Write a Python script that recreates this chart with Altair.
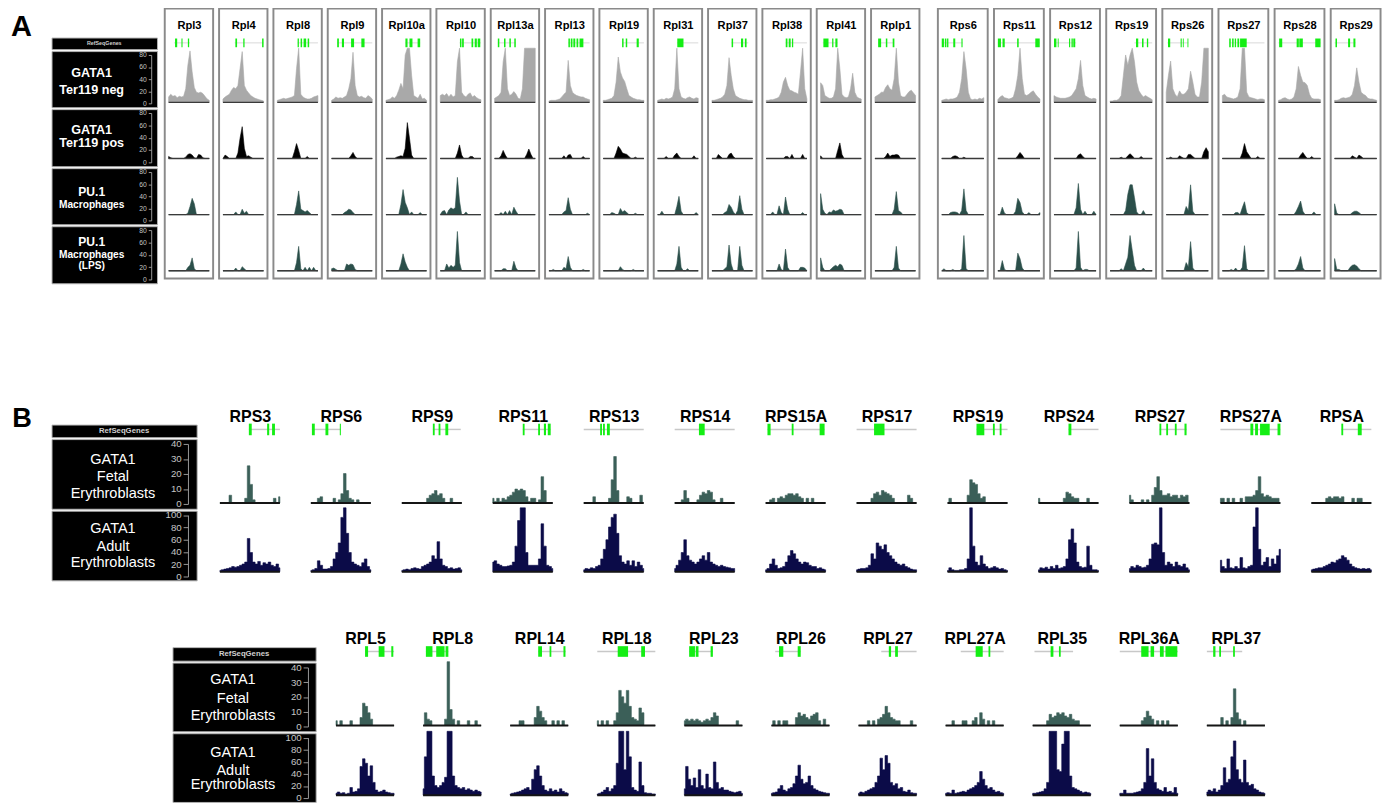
import altair as alt
import pandas as pd

FONT = "Liberation Sans"

# ---------------- Panel A data ----------------
A_RPL_GENES = ["Rpl3", "Rpl4", "Rpl8", "Rpl9", "Rpl10a", "Rpl10", "Rpl13a",
               "Rpl13", "Rpl19", "Rpl31", "Rpl37", "Rpl38", "Rpl41", "Rplp1"]
A_RPS_GENES = ["Rps6", "Rps11", "Rps12", "Rps19", "Rps26", "Rps27", "Rps28", "Rps29"]
A_ROW_LABELS = [["GATA1", "Ter119 neg"], ["GATA1", "Ter119 pos"],
                ["PU.1", "Macrophages"], ["PU.1", "Macrophages", "(LPS)"]]
A_AXIS_TICKS = [0, 20, 40, 60, 80]

# GATA1 Ter119 neg (grey)
A_NEG = {
    "Rpl3": [8, 12, 9, 10, 7, 9, 8, 9, 20, 55, 76, 45, 22, 15, 14, 15, 13, 9, 5, 3],
    "Rpl4": [5, 8, 10, 12, 18, 22, 20, 25, 50, 75, 25, 18, 14, 10, 8, 6, 5, 4, 3, 2],
    "Rpl8": [3, 4, 5, 6, 5, 6, 7, 8, 10, 50, 80, 12, 8, 6, 5, 5, 6, 8, 9, 10],
    "Rpl9": [3, 5, 8, 6, 7, 6, 8, 10, 20, 35, 74, 25, 10, 8, 9, 7, 6, 10, 8, 5],
    "Rpl10a": [3, 4, 5, 8, 6, 10, 18, 28, 20, 70, 80, 80, 40, 10, 8, 6, 12, 5, 6, 3],
    "Rpl10": [10, 12, 10, 13, 8, 12, 8, 10, 60, 80, 15, 10, 8, 12, 14, 8, 10, 7, 5, 4],
    "Rpl13a": [6, 8, 10, 15, 60, 80, 20, 10, 12, 16, 12, 6, 5, 20, 80, 80, 80, 80, 80, 80],
    "Rpl13": [2, 3, 3, 3, 4, 5, 8, 12, 15, 62, 25, 15, 12, 10, 9, 8, 8, 6, 5, 4],
    "Rpl19": [3, 3, 4, 5, 6, 10, 30, 67, 45, 36, 31, 20, 10, 8, 6, 5, 4, 4, 3, 3],
    "Rpl31": [3, 4, 5, 4, 6, 5, 6, 8, 20, 80, 20, 8, 6, 5, 7, 8, 6, 5, 7, 6],
    "Rpl37": [3, 3, 4, 5, 6, 8, 12, 25, 66, 40, 20, 10, 8, 6, 5, 4, 4, 3, 3, 3],
    "Rpl38": [3, 3, 4, 4, 5, 6, 8, 15, 30, 37, 25, 18, 17, 15, 14, 12, 45, 80, 20, 5],
    "Rpl41": [29, 25, 10, 8, 6, 6, 8, 20, 80, 50, 12, 8, 7, 8, 20, 43, 15, 8, 6, 5],
    "Rplp1": [8, 10, 12, 15, 15, 22, 26, 20, 18, 35, 80, 30, 10, 8, 8, 12, 16, 18, 14, 10],
    "Rps6": [3, 4, 5, 4, 5, 5, 6, 8, 15, 35, 75, 50, 15, 5, 4, 5, 4, 6, 5, 7],
    "Rps11": [4, 8, 10, 7, 6, 5, 6, 8, 20, 40, 80, 35, 12, 10, 12, 15, 17, 12, 8, 5],
    "Rps12": [10, 8, 7, 6, 6, 6, 7, 8, 10, 15, 20, 35, 62, 25, 10, 8, 6, 5, 6, 5],
    "Rps19": [2, 2, 3, 3, 5, 10, 40, 70, 55, 70, 80, 60, 30, 17, 12, 8, 10, 8, 6, 4],
    "Rps26": [15, 40, 61, 20, 12, 8, 17, 12, 12, 15, 20, 46, 30, 12, 8, 8, 30, 80, 80, 80],
    "Rps27": [10, 12, 8, 7, 6, 5, 6, 8, 20, 80, 80, 15, 8, 7, 6, 5, 4, 5, 5, 4],
    "Rps28": [3, 4, 6, 7, 5, 4, 5, 8, 20, 53, 40, 30, 29, 25, 12, 6, 5, 5, 5, 4],
    "Rps29": [3, 3, 4, 6, 7, 6, 7, 8, 12, 25, 51, 30, 15, 12, 10, 6, 5, 5, 4, 3],
}
# GATA1 Ter119 pos (black)
A_POS = {
    "Rpl3": [3, 1, 0, 0, 0, 0, 0, 0, 2, 6, 7, 5, 1, 0, 6, 5, 1, 0, 0, 0],
    "Rpl4": [0, 5, 3, 0, 0, 0, 0, 8, 30, 47, 15, 3, 4, 2, 0, 0, 0, 0, 0, 0],
    "Rpl8": [0, 0, 0, 0, 0, 0, 0, 0, 10, 22, 12, 0, 0, 0, 3, 0, 0, 0, 0, 0],
    "Rpl9": [0, 0, 0, 0, 0, 0, 0, 0, 0, 4, 9, 3, 0, 0, 0, 0, 0, 0, 0, 0],
    "Rpl10a": [0, 0, 0, 0, 0, 2, 3, 4, 3, 15, 53, 30, 5, 0, 0, 0, 0, 0, 0, 0],
    "Rpl10": [0, 0, 0, 0, 0, 0, 0, 0, 8, 20, 5, 0, 0, 0, 3, 3, 0, 0, 0, 0],
    "Rpl13a": [0, 0, 0, 4, 12, 5, 0, 0, 0, 0, 0, 0, 0, 0, 0, 6, 14, 6, 0, 0],
    "Rpl13": [0, 0, 0, 0, 0, 0, 0, 4, 0, 5, 6, 0, 0, 0, 0, 0, 3, 0, 0, 0],
    "Rpl19": [0, 0, 0, 0, 0, 0, 8, 18, 14, 8, 7, 6, 3, 0, 0, 2, 0, 0, 0, 0],
    "Rpl31": [0, 0, 0, 0, 3, 0, 0, 0, 5, 8, 3, 0, 0, 0, 0, 0, 0, 4, 0, 0],
    "Rpl37": [0, 0, 0, 6, 3, 0, 0, 0, 6, 8, 3, 0, 0, 0, 0, 0, 0, 0, 0, 0],
    "Rpl38": [0, 0, 0, 0, 0, 0, 0, 0, 0, 3, 3, 0, 6, 0, 0, 0, 0, 6, 0, 0],
    "Rpl41": [4, 0, 0, 0, 0, 0, 0, 0, 12, 23, 6, 0, 0, 0, 0, 0, 0, 0, 0, 0],
    "Rplp1": [0, 0, 0, 0, 0, 3, 8, 3, 5, 5, 6, 5, 0, 0, 0, 0, 0, 0, 0, 0],
    "Rps6": [0, 0, 0, 0, 0, 3, 4, 3, 0, 0, 2, 0, 0, 0, 0, 0, 0, 0, 0, 0],
    "Rps11": [0, 0, 0, 0, 0, 0, 0, 0, 0, 4, 9, 5, 0, 0, 0, 0, 0, 0, 0, 0],
    "Rps12": [0, 0, 0, 0, 0, 0, 0, 0, 0, 0, 0, 5, 7, 3, 0, 0, 0, 0, 0, 0],
    "Rps19": [0, 0, 0, 0, 0, 2, 0, 0, 4, 7, 4, 0, 0, 0, 3, 0, 0, 0, 0, 0],
    "Rps26": [0, 0, 2, 0, 0, 0, 4, 2, 0, 0, 6, 6, 3, 0, 0, 0, 0, 10, 16, 10],
    "Rps27": [0, 0, 0, 0, 0, 0, 0, 0, 0, 8, 22, 10, 5, 0, 0, 0, 3, 0, 0, 0],
    "Rps28": [0, 0, 0, 0, 0, 0, 0, 0, 0, 0, 5, 9, 4, 0, 0, 3, 0, 0, 0, 0],
    "Rps29": [0, 0, 0, 0, 0, 0, 0, 0, 4, 2, 0, 5, 3, 0, 0, 0, 0, 0, 0, 0],
}
# PU.1 Macrophages
A_PU1 = {
    "Rpl3": [0, 0, 0, 0, 0, 0, 0, 0, 0, 2, 12, 24, 16, 0, 0, 0, 0, 0, 0, 0],
    "Rpl4": [0, 0, 0, 0, 0, 0, 4, 0, 0, 8, 2, 5, 0, 0, 0, 0, 0, 0, 0, 0],
    "Rpl8": [0, 0, 0, 0, 0, 0, 0, 0, 0, 15, 35, 8, 6, 4, 6, 3, 0, 0, 0, 0],
    "Rpl9": [0, 0, 0, 0, 0, 0, 3, 5, 8, 7, 3, 0, 0, 0, 0, 0, 0, 0, 0, 0],
    "Rpl10a": [0, 0, 0, 0, 0, 0, 0, 15, 37, 18, 10, 0, 4, 0, 0, 0, 3, 0, 0, 0],
    "Rpl10": [0, 5, 6, 0, 7, 10, 8, 10, 55, 20, 0, 0, 4, 0, 0, 0, 0, 0, 0, 0],
    "Rpl13a": [0, 0, 0, 3, 0, 5, 0, 6, 0, 11, 5, 0, 0, 0, 0, 0, 0, 0, 0, 0],
    "Rpl13": [0, 0, 0, 0, 0, 0, 0, 4, 6, 25, 8, 0, 0, 0, 0, 0, 0, 0, 2, 0],
    "Rpl19": [0, 0, 0, 0, 3, 2, 0, 0, 9, 4, 6, 3, 0, 0, 0, 2, 0, 0, 0, 0],
    "Rpl31": [0, 0, 5, 0, 0, 0, 0, 0, 0, 12, 27, 5, 0, 0, 0, 0, 0, 0, 3, 0],
    "Rpl37": [0, 0, 0, 0, 0, 0, 3, 5, 15, 11, 4, 0, 6, 28, 8, 0, 0, 0, 0, 0],
    "Rpl38": [0, 0, 0, 4, 0, 0, 13, 3, 0, 26, 8, 0, 0, 0, 0, 0, 0, 3, 0, 0],
    "Rpl41": [31, 8, 2, 0, 4, 3, 7, 5, 6, 8, 7, 0, 0, 0, 0, 0, 0, 0, 0, 0],
    "Rplp1": [0, 0, 0, 0, 0, 0, 0, 0, 0, 8, 34, 6, 4, 0, 0, 0, 0, 0, 0, 0],
    "Rps6": [0, 0, 0, 0, 3, 4, 4, 3, 0, 6, 38, 6, 0, 0, 0, 0, 0, 0, 0, 0],
    "Rps11": [0, 0, 11, 2, 0, 0, 0, 0, 5, 24, 18, 4, 0, 0, 3, 0, 0, 0, 0, 3],
    "Rps12": [0, 0, 0, 0, 0, 0, 0, 0, 0, 0, 10, 46, 8, 0, 5, 0, 0, 0, 5, 0],
    "Rps19": [0, 0, 0, 0, 0, 0, 0, 6, 30, 44, 44, 25, 4, 0, 0, 6, 0, 0, 0, 0],
    "Rps26": [0, 0, 0, 0, 0, 0, 0, 0, 0, 12, 6, 44, 5, 0, 0, 0, 0, 0, 0, 0],
    "Rps27": [0, 0, 0, 0, 0, 0, 3, 3, 0, 10, 19, 3, 0, 0, 0, 0, 0, 0, 0, 0],
    "Rps28": [0, 0, 0, 0, 0, 0, 0, 0, 5, 12, 20, 5, 0, 0, 0, 0, 4, 0, 0, 0],
    "Rps29": [16, 2, 0, 0, 0, 0, 0, 0, 3, 5, 5, 3, 0, 0, 0, 0, 0, 0, 0, 0],
}
# PU.1 Macrophages (LPS)
A_PU1_LPS = {
    "Rpl3": [0, 0, 0, 0, 0, 0, 0, 0, 0, 5, 8, 19, 3, 0, 0, 0, 0, 0, 0, 0],
    "Rpl4": [0, 0, 0, 0, 0, 0, 4, 0, 0, 6, 3, 0, 0, 0, 0, 0, 0, 0, 0, 0],
    "Rpl8": [0, 0, 0, 0, 0, 0, 0, 0, 0, 12, 36, 3, 0, 5, 0, 5, 0, 5, 0, 0],
    "Rpl9": [3, 4, 2, 0, 0, 0, 0, 10, 8, 10, 9, 2, 0, 0, 0, 0, 0, 0, 0, 0],
    "Rpl10a": [0, 0, 0, 0, 0, 0, 0, 10, 25, 13, 5, 0, 0, 0, 0, 0, 0, 0, 0, 0],
    "Rpl10": [0, 0, 0, 10, 4, 8, 5, 8, 58, 12, 0, 0, 0, 0, 0, 0, 0, 0, 0, 0],
    "Rpl13a": [0, 0, 0, 0, 3, 3, 0, 0, 0, 14, 4, 0, 0, 0, 0, 0, 0, 0, 0, 0],
    "Rpl13": [0, 0, 2, 0, 0, 0, 0, 5, 3, 21, 5, 0, 0, 0, 0, 0, 2, 0, 0, 0],
    "Rpl19": [0, 0, 0, 0, 0, 0, 0, 0, 6, 2, 0, 0, 0, 0, 2, 0, 0, 0, 0, 0],
    "Rpl31": [0, 0, 0, 0, 0, 0, 0, 0, 0, 10, 36, 5, 0, 0, 3, 0, 0, 0, 0, 0],
    "Rpl37": [0, 0, 0, 0, 0, 0, 3, 6, 38, 10, 0, 0, 0, 36, 8, 0, 0, 0, 0, 0],
    "Rpl38": [0, 0, 0, 0, 0, 0, 10, 2, 0, 32, 5, 0, 0, 0, 0, 0, 5, 5, 4, 0],
    "Rpl41": [19, 5, 0, 0, 0, 3, 6, 8, 6, 10, 8, 0, 0, 0, 0, 0, 0, 0, 0, 0],
    "Rplp1": [0, 0, 0, 0, 0, 0, 0, 0, 0, 5, 36, 4, 0, 0, 0, 0, 0, 0, 0, 0],
    "Rps6": [0, 3, 0, 0, 0, 2, 0, 0, 0, 3, 52, 3, 0, 0, 0, 0, 0, 0, 0, 0],
    "Rps11": [0, 0, 15, 2, 0, 0, 0, 0, 0, 26, 18, 4, 0, 0, 0, 0, 0, 0, 0, 0],
    "Rps12": [0, 0, 0, 0, 0, 0, 0, 0, 0, 0, 4, 58, 5, 0, 2, 2, 0, 0, 0, 0],
    "Rps19": [0, 0, 0, 0, 0, 3, 0, 10, 20, 52, 30, 8, 0, 0, 0, 4, 0, 0, 0, 0],
    "Rps26": [0, 0, 0, 0, 0, 0, 0, 0, 0, 12, 6, 43, 4, 0, 0, 0, 0, 0, 0, 0],
    "Rps27": [0, 0, 0, 0, 2, 0, 4, 0, 0, 5, 37, 3, 0, 0, 0, 0, 0, 0, 0, 0],
    "Rps28": [0, 0, 0, 0, 0, 0, 0, 0, 3, 10, 21, 4, 0, 0, 0, 0, 0, 0, 0, 0],
    "Rps29": [18, 2, 2, 0, 0, 0, 0, 5, 8, 9, 7, 3, 0, 0, 0, 0, 0, 0, 0, 0],
}
# RefSeq gene models: (line start, line end, [exons]) in window units 0-19
MODEL_A = {
    "Rpl3": (2.5, 10.0, [(3.0, 4.0), (6.0, 6.5), (9.0, 9.6)]),
    "Rpl4": (5.5, 19.0, [(5.8, 6.6), (9.5, 10.1), (18.3, 19.0)]),
    "Rpl8": (9.5, 19.0, [(9.5, 10.1), (10.9, 11.6), (12.3, 13.5), (14.2, 14.9)]),
    "Rpl9": (2.5, 19.0, [(2.6, 3.4), (4.8, 5.8), (9.1, 10.5), (13.9, 15.4)]),
    "Rpl10a": (9.0, 16.0, [(9.1, 10.1), (11.0, 12.4), (14.8, 16.0)]),
    "Rpl10": (9.0, 19.0, [(9.2, 9.9), (10.2, 11.0), (14.6, 15.4), (16.1, 17.1), (17.5, 18.7)]),
    "Rpl13a": (1.5, 10.0, [(1.5, 2.2), (4.4, 5.1), (6.9, 7.6), (9.2, 9.9)]),
    "Rpl13": (9.0, 19.0, [(9.1, 9.8), (10.2, 11.0), (11.4, 12.3), (12.9, 13.7), (14.3, 16.1)]),
    "Rpl19": (8.8, 19.0, [(8.8, 9.5), (10.5, 11.2), (15.6, 16.6)]),
    "Rpl31": (9.0, 19.0, [(9.2, 12.1)]),
    "Rpl37": (9.0, 17.0, [(9.2, 9.9), (13.6, 14.6), (15.4, 16.2)]),
    "Rpl38": (9.0, 19.0, [(9.1, 9.9), (10.5, 11.4), (12.0, 12.6)]),
    "Rpl41": (1.0, 8.0, [(1.3, 3.7), (5.4, 6.0), (6.9, 7.9)]),
    "Rplp1": (1.5, 9.0, [(1.5, 2.9), (5.1, 5.8), (8.3, 9.1)]),
    "Rps6": (0.0, 9.5, [(0.0, 1.0), (1.4, 2.1), (2.4, 3.0), (5.2, 6.1), (8.9, 9.4)]),
    "Rps11": (0.0, 19.0, [(0.0, 1.4), (2.1, 3.1), (8.7, 9.4), (16.9, 18.9)]),
    "Rps12": (0.0, 10.0, [(0.0, 1.1), (1.7, 2.1), (6.8, 7.3), (7.9, 8.5), (8.7, 9.6)]),
    "Rps19": (11.0, 19.0, [(11.7, 12.7), (14.4, 15.1), (16.6, 17.2)]),
    "Rps26": (0.5, 10.0, [(0.8, 1.8), (6.5, 7.0), (7.5, 7.9), (9.6, 10.0)]),
    "Rps27": (3.0, 19.0, [(3.1, 3.8), (4.4, 5.1), (5.6, 6.2), (6.8, 7.6), (8.0, 11.0)]),
    "Rps28": (0.0, 19.0, [(0.3, 1.7), (8.2, 9.2), (9.4, 11.0), (16.6, 19.0)]),
    "Rps29": (0.0, 9.5, [(0.4, 1.1), (6.1, 7.0), (8.5, 9.4)]),
}

# ---------------- Panel B data ----------------
B1_GENES = ["RPS3", "RPS6", "RPS9", "RPS11", "RPS13", "RPS14", "RPS15A",
            "RPS17", "RPS19", "RPS24", "RPS27", "RPS27A", "RPSA"]
B2_GENES = ["RPL5", "RPL8", "RPL14", "RPL18", "RPL23", "RPL26", "RPL27",
            "RPL27A", "RPL35", "RPL36A", "RPL37"]
B_ROW_LABELS = [["GATA1", "Fetal", "Erythroblasts"], ["GATA1", "Adult", "Erythroblasts"]]
B_FETAL_TICKS = [0, 10, 20, 30, 40]
B_ADULT_TICKS = [0, 20, 40, 60, 80, 100]

B_FETAL = {
    "RPS3": [0, 0, 0, 0, 5, 0, 0, 0, 0, 0, 3, 24, 12, 2, 0, 0, 0, 0, 0, 0, 0, 3, 0, 4],
    "RPS6": [0, 0, 0, 3, 4, 0, 0, 0, 0, 3, 0, 2, 6, 19, 8, 3, 2, 0, 2, 0, 0, 0, 0, 0],
    "RPS9": [0, 0, 0, 0, 0, 0, 0, 0, 0, 0, 3, 5, 6, 8, 5, 6, 3, 0, 0, 3, 0, 0, 0, 0],
    "RPS11": [3, 1, 3, 1, 3, 2, 4, 5, 7, 9, 8, 9, 8, 4, 1, 3, 3, 0, 2, 17, 8, 0, 0, 0],
    "RPS13": [0, 0, 0, 0, 4, 0, 0, 0, 0, 0, 3, 15, 30, 8, 0, 0, 0, 4, 3, 0, 0, 0, 5, 0],
    "RPS14": [0, 0, 0, 2, 8, 3, 0, 0, 0, 2, 5, 7, 6, 8, 7, 2, 0, 0, 3, 0, 0, 0, 0, 0],
    "RPS15A": [0, 0, 2, 3, 0, 3, 4, 3, 5, 6, 6, 5, 6, 4, 3, 0, 3, 0, 3, 0, 0, 0, 0, 0],
    "RPS17": [0, 0, 0, 0, 0, 0, 3, 6, 7, 5, 8, 7, 6, 5, 3, 0, 0, 0, 0, 0, 5, 3, 0, 0],
    "RPS19": [0, 3, 0, 0, 0, 0, 0, 0, 5, 15, 13, 12, 6, 3, 4, 0, 0, 0, 0, 0, 0, 0, 0, 0],
    "RPS24": [3, 0, 0, 0, 0, 0, 0, 0, 0, 0, 3, 7, 6, 4, 3, 3, 0, 0, 0, 3, 0, 0, 0, 0],
    "RPS27": [5, 2, 0, 0, 0, 2, 0, 2, 0, 5, 10, 17, 8, 5, 5, 6, 4, 5, 5, 3, 5, 4, 5, 0],
    "RPS27A": [3, 3, 0, 3, 0, 3, 0, 0, 3, 0, 4, 4, 4, 5, 8, 17, 6, 4, 5, 4, 3, 3, 3, 0],
    "RPSA": [0, 0, 0, 0, 0, 0, 3, 4, 3, 4, 4, 3, 4, 0, 0, 0, 3, 0, 3, 3, 0, 0, 0, 0],
    "RPL5": [3, 0, 3, 0, 0, 0, 3, 0, 0, 0, 5, 14, 12, 8, 4, 0, 0, 0, 0, 0, 0, 0, 0, 0],
    "RPL8": [0, 8, 4, 3, 0, 0, 0, 0, 0, 4, 42, 10, 4, 0, 3, 0, 0, 0, 3, 0, 0, 3, 0, 0],
    "RPL14": [0, 0, 0, 0, 3, 3, 0, 0, 0, 0, 5, 12, 9, 5, 3, 0, 0, 3, 0, 3, 0, 3, 0, 0],
    "RPL18": [3, 0, 3, 0, 3, 0, 0, 3, 8, 22, 18, 14, 22, 12, 5, 4, 3, 11, 8, 0, 0, 0, 0, 0],
    "RPL23": [3, 4, 3, 4, 3, 4, 3, 2, 3, 4, 3, 5, 8, 6, 0, 0, 0, 0, 0, 0, 0, 3, 0, 0],
    "RPL26": [0, 3, 0, 3, 0, 3, 3, 0, 0, 0, 5, 8, 6, 7, 5, 4, 6, 7, 8, 3, 0, 4, 0, 0],
    "RPL27": [0, 0, 0, 0, 3, 0, 3, 0, 4, 5, 7, 12, 8, 5, 4, 3, 3, 0, 0, 0, 0, 3, 0, 0],
    "RPL27A": [0, 0, 0, 3, 0, 0, 0, 3, 3, 0, 0, 3, 5, 0, 8, 4, 0, 3, 0, 3, 0, 0, 0, 0],
    "RPL35": [0, 0, 0, 0, 0, 0, 3, 7, 5, 6, 8, 7, 8, 6, 5, 7, 4, 3, 3, 0, 0, 0, 0, 0],
    "RPL36A": [0, 0, 0, 0, 0, 0, 0, 0, 0, 3, 5, 9, 6, 4, 0, 3, 0, 3, 0, 3, 0, 0, 0, 0],
    "RPL37": [0, 0, 0, 0, 0, 0, 5, 0, 3, 0, 5, 23, 8, 4, 0, 3, 0, 0, 0, 0, 0, 0, 0, 0],
}
B_ADULT = {
    "RPS3": [2, 3, 4, 5, 6, 8, 7, 8, 10, 12, 15, 52, 30, 15, 12, 16, 10, 14, 12, 15, 10, 8, 12, 6],
    "RPS6": [2, 3, 5, 17, 10, 4, 4, 5, 8, 20, 30, 45, 85, 100, 60, 30, 15, 12, 10, 8, 14, 20, 8, 3],
    "RPS9": [2, 3, 4, 3, 5, 6, 5, 4, 8, 10, 12, 15, 25, 20, 47, 20, 10, 8, 5, 6, 4, 5, 6, 3],
    "RPS11": [15, 17, 12, 10, 8, 8, 9, 10, 15, 40, 80, 100, 100, 30, 10, 10, 10, 10, 20, 75, 40, 10, 8, 5],
    "RPS13": [3, 5, 4, 6, 5, 8, 10, 20, 35, 50, 70, 85, 90, 60, 25, 15, 12, 17, 10, 17, 8, 15, 10, 5],
    "RPS14": [5, 10, 18, 30, 50, 25, 18, 15, 12, 15, 20, 25, 18, 30, 15, 12, 10, 8, 10, 8, 7, 6, 5, 5],
    "RPS15A": [3, 5, 12, 20, 10, 5, 6, 8, 15, 25, 33, 28, 20, 15, 12, 15, 14, 10, 8, 8, 5, 6, 4, 3],
    "RPS17": [3, 4, 5, 5, 6, 10, 28, 20, 45, 40, 35, 42, 30, 25, 20, 15, 12, 10, 12, 8, 6, 4, 3, 3],
    "RPS19": [2, 6, 3, 2, 2, 3, 3, 5, 20, 100, 40, 15, 10, 25, 12, 8, 5, 6, 8, 6, 4, 5, 3, 2],
    "RPS24": [3, 6, 5, 7, 4, 8, 5, 10, 5, 6, 8, 20, 50, 67, 45, 15, 8, 6, 7, 40, 10, 3, 3, 2],
    "RPS27": [5, 8, 6, 10, 8, 6, 7, 10, 20, 43, 45, 42, 100, 30, 10, 15, 12, 8, 15, 10, 8, 12, 6, 3],
    "RPS27A": [18, 8, 5, 20, 6, 5, 8, 5, 22, 6, 5, 8, 10, 70, 100, 35, 10, 15, 22, 8, 20, 12, 25, 35],
    "RPSA": [3, 4, 5, 6, 6, 8, 10, 12, 15, 14, 18, 20, 25, 22, 18, 12, 8, 6, 5, 4, 5, 4, 5, 3],
    "RPL5": [3, 5, 3, 4, 2, 3, 12, 5, 6, 10, 45, 57, 50, 30, 46, 20, 8, 5, 6, 8, 5, 4, 3, 3],
    "RPL8": [10, 60, 100, 100, 30, 15, 12, 15, 20, 28, 100, 100, 30, 15, 12, 10, 12, 8, 10, 8, 6, 8, 6, 5],
    "RPL14": [2, 3, 4, 5, 6, 8, 10, 12, 8, 25, 40, 46, 30, 15, 8, 6, 10, 6, 8, 5, 10, 6, 4, 3],
    "RPL18": [2, 3, 5, 8, 12, 6, 10, 15, 50, 100, 100, 40, 100, 60, 12, 8, 6, 52, 15, 4, 3, 3, 2, 2],
    "RPL23": [10, 45, 25, 15, 27, 12, 40, 15, 10, 33, 12, 10, 52, 20, 10, 12, 8, 8, 6, 5, 4, 5, 6, 3],
    "RPL26": [3, 4, 5, 10, 15, 8, 6, 10, 12, 18, 30, 47, 25, 18, 20, 30, 15, 10, 8, 6, 5, 4, 3, 3],
    "RPL27": [3, 5, 4, 6, 8, 10, 12, 20, 30, 58, 40, 62, 50, 20, 15, 18, 10, 12, 6, 5, 8, 4, 3, 3],
    "RPL27A": [3, 4, 3, 8, 3, 4, 5, 6, 5, 8, 10, 12, 15, 20, 37, 25, 15, 10, 12, 8, 5, 6, 4, 3],
    "RPL35": [3, 3, 4, 5, 6, 10, 20, 100, 100, 100, 40, 37, 80, 100, 100, 30, 12, 10, 8, 6, 4, 5, 4, 3],
    "RPL36A": [3, 3, 8, 3, 3, 3, 4, 5, 6, 10, 20, 73, 30, 57, 20, 10, 8, 6, 12, 5, 6, 4, 12, 3],
    "RPL37": [5, 8, 6, 10, 5, 8, 15, 43, 20, 25, 60, 85, 40, 25, 20, 55, 20, 15, 17, 10, 8, 5, 4, 3],
}
MODEL_B = {
    "RPS3": (11.1, 23.0, [(11.1, 12.2), (18.1, 18.9), (20.0, 21.1)]),
    "RPS6": (0.4, 11.5, [(0.4, 1.5), (5.6, 6.7), (11.1, 11.5)]),
    "RPS9": (11.9, 22.6, [(11.9, 12.6), (14.1, 14.8), (16.7, 17.8)]),
    "RPS11": (11.5, 22.2, [(11.5, 12.2), (17.4, 18.1), (19.6, 20.4), (21.1, 22.2)]),
    "RPS13": (0.0, 23.0, [(6.3, 7.0), (7.4, 8.1), (8.9, 10.0)]),
    "RPS14": (0.0, 23.0, [(9.3, 11.5)]),
    "RPS15A": (0.7, 22.6, [(0.7, 1.9), (10.0, 10.7), (20.7, 22.6)]),
    "RPS17": (0.0, 23.0, [(6.7, 10.7)]),
    "RPS19": (11.1, 23.0, [(11.1, 14.1), (17.4, 18.1), (20.0, 20.7)]),
    "RPS24": (11.5, 23.0, [(11.5, 12.6)]),
    "RPS27": (11.5, 21.9, [(11.5, 12.2), (14.1, 14.8), (17.4, 18.1), (21.1, 21.9)]),
    "RPS27A": (0.0, 23.0, [(11.5, 12.6), (13.3, 14.4), (15.2, 18.9), (21.9, 23.0)]),
    "RPSA": (11.5, 23.0, [(11.5, 12.2), (17.8, 19.3)]),
    "RPL5": (11.5, 23.0, [(11.5, 12.7), (16.9, 19.2), (21.9, 22.7)]),
    "RPL8": (1.1, 10.0, [(1.1, 3.7), (5.2, 8.5), (8.9, 10.0)]),
    "RPL14": (11.1, 22.0, [(11.1, 12.6), (15.6, 16.3), (21.1, 21.9)]),
    "RPL18": (0.0, 23.0, [(8.1, 12.2), (17.4, 18.9)]),
    "RPL23": (1.9, 11.3, [(1.9, 4.2), (4.5, 5.6), (10.4, 11.3)]),
    "RPL26": (1.5, 11.6, [(3.0, 4.7), (10.4, 11.6)]),
    "RPL27": (9.0, 23.0, [(12.0, 12.9), (14.5, 15.6)]),
    "RPL27A": (6.0, 23.0, [(11.9, 14.7), (17.0, 17.7)]),
    "RPL35": (0.7, 16.0, [(7.1, 8.2), (10.4, 11.1)]),
    "RPL36A": (0.0, 23.0, [(8.5, 11.4), (12.2, 13.6), (15.9, 17.4), (18.1, 22.8)]),
    "RPL37": (0.0, 14.0, [(2.5, 3.4), (4.9, 5.6), (10.4, 11.1)]),
}

# ---------------- style ----------------
GREY = "#a9a9a9"
BLACK = "#000000"
TEAL = "#2b4f4a"
FETAL = "#3b5f58"
NAVY = "#0b0b48"
GREEN = "#14ee14"
NOVIEW = alt.ViewBackground(stroke="transparent", strokeWidth=0)
BOXVIEW = alt.ViewBackground(fill="black", stroke="#b4b4b4", strokeWidth=1)


def hcat(*charts, spacing=0):
    return alt.hconcat(*charts, spacing=spacing)


def vcat(*charts, spacing=0):
    return alt.vconcat(*charts, spacing=spacing)


def spacer(w, h):
    return alt.Chart(pd.DataFrame({"t": [""]})).mark_text(fontSize=1).encode(
        text="t:N").properties(width=w, height=h, view=NOVIEW)


def letter(t, w, h, size):
    return alt.Chart(pd.DataFrame({"t": [t]})).mark_text(
        font=FONT, fontSize=size, fontWeight="bold", color="black"
    ).encode(text="t:N").properties(width=w, height=h, view=NOVIEW)


def name_axis(gene, size, inset):
    # gene name drawn as the title of a hidden top axis, moved inside the panel
    return alt.Axis(orient="top", title=gene, titleFont=FONT, titleFontSize=size,
                    titleFontWeight="bold", titleColor="black", titlePadding=0,
                    titleBaseline="bottom", offset=-inset, labels=False,
                    ticks=False, domain=False, grid=False, minExtent=0)


def track_layer(values, color, ymax, rng, xsc, xaxis, base_color, base_width, interp):
    df = pd.DataFrame({"x": list(range(len(values))), "v": values})
    ysc = alt.Scale(domain=[0, ymax], range=rng, clamp=True, nice=False, zero=False)
    b = alt.Chart(df)
    area = b.mark_area(color=color, stroke=color, strokeWidth=0.6,
                       interpolate=interp).encode(
        x=alt.X("x:Q", scale=xsc, axis=xaxis),
        y=alt.Y("v:Q", scale=ysc, axis=None),
    )
    rule = b.transform_aggregate(x0="min(x)", x1="max(x)").mark_rule(
        color=base_color, strokeWidth=base_width).encode(
        x=alt.X("x0:Q", scale=xsc, axis=xaxis),
        x2="x1:Q",
        y=alt.YDatum(0, axis=None),
    )
    return alt.layer(area, rule)


def model_layer(spec, xsc, xaxis, rng, line_color, line_width):
    start, end, exons = spec
    ysc = alt.Scale(domain=[0, 1], range=rng, nice=False, zero=False)
    ldf = pd.DataFrame({"s": [start], "e": [end]})
    edf = pd.DataFrame({"s": [a for a, b in exons], "e": [b for a, b in exons]})
    ln = alt.Chart(ldf).mark_rule(color=line_color, strokeWidth=line_width).encode(
        x=alt.X("s:Q", scale=xsc, axis=xaxis), x2="e:Q",
        y=alt.YDatum(0.5, scale=ysc, axis=None))
    ex = alt.Chart(edf).mark_rect(color=GREEN).encode(
        x=alt.X("s:Q", scale=xsc, axis=xaxis), x2="e:Q",
        y=alt.YDatum(0, scale=ysc, axis=None), y2=alt.datum(1))
    return alt.layer(ln, ex)


def a_gene(gene, w):
    xsc = alt.Scale(domain=[0, 19], range=[4, w - 4], nice=False, zero=False)
    xaxis = name_axis(gene, 11.5, 22.4)
    layers = [model_layer(MODEL_A[gene], xsc, xaxis, [40, 31], "#d8d8d8", 1)]
    srcs = [(A_NEG, GREY), (A_POS, BLACK), (A_PU1, TEAL), (A_PU1_LPS, TEAL)]
    for k, (src, col) in enumerate(srcs):
        layers.append(track_layer(src[gene], col, 80, [97 + 58 * k, 41 + 58 * k],
                                  xsc, xaxis, "#3a3a3a", 1.5, "linear"))
    return alt.layer(*layers).resolve_scale(y="independent").properties(
        width=w, height=279,
        view=alt.ViewBackground(stroke="#8a8a8a", strokeWidth=2, fill="white"))


def b_gene(gene, w, h, model_rng, fetal_rng, adult_rng, name_inset):
    xsc = alt.Scale(domain=[0, 23], range=[0, w], nice=False, zero=False)
    xaxis = name_axis(gene, 16.5, name_inset)
    layers = [
        model_layer(MODEL_B[gene], xsc, xaxis, model_rng, "#c8c8c8", 1.5),
        track_layer(B_FETAL[gene], FETAL, 40, fetal_rng, xsc, xaxis, "#151515", 2, "step"),
        track_layer(B_ADULT[gene], NAVY, 100, adult_rng, xsc, xaxis, "#151515", 2, "step"),
    ]
    return alt.layer(*layers).resolve_scale(y="independent").properties(
        width=w, height=h, view=NOVIEW)


def header(w, h, size):
    return alt.Chart(pd.DataFrame({"t": ["RefSeqGenes"]})).mark_text(
        font=FONT, fontSize=size, fontWeight="bold", color="#d0d0d0"
    ).encode(text="t:N").properties(width=w, height=h, view=BOXVIEW)


def label_row(lines, sizes, dys, weight, dx, w, h, domain, ticks, rng,
              axis_x, lab_size, tick_size):
    axis_layer = alt.Chart(pd.DataFrame({"v": ticks})).mark_point(opacity=0, size=1).encode(
        y=alt.Y("v:Q",
                scale=alt.Scale(domain=domain, range=rng, nice=False, zero=False),
                axis=alt.Axis(orient="left", offset=-axis_x, values=ticks, title="",
                              grid=False, labelColor="#c4c4c4", labelFont=FONT,
                              labelFontSize=lab_size, labelPadding=2,
                              labelOverlap=False, labelFlush=False, minExtent=0,
                              tickColor="#9c9c9c", tickSize=tick_size, tickWidth=1,
                              domainColor="#9c9c9c", domainWidth=1)))
    layers = [axis_layer]
    for line, size, dy in zip(lines, sizes, dys):
        layers.append(alt.Chart(pd.DataFrame({"t": [line]})).mark_text(
            font=FONT, fontSize=size, fontWeight=weight, color="white",
            dx=dx, dy=dy).encode(text="t:N"))
    return alt.layer(*layers).properties(width=w, height=h, view=BOXVIEW)


# ---------------- Panel A ----------------
A_BOX_W = 109
a_row_h = [58, 59, 58, 59]
a_sizes = [[13, 13], [13, 13], [12.5, 10.5], [12.5, 10.5, 10.5]]
a_dys = [[-6, 11], [-8, 6], [-4, 9], [-13, 0, 12]]
a_rows = [
    label_row(A_ROW_LABELS[i], a_sizes[i], a_dys[i], "bold", -13, A_BOX_W, a_row_h[i],
              [0, 80], A_AXIS_TICKS, [a_row_h[i] - 4, 4], 103, 7, 3)
    for i in range(4)
]
box_a = vcat(spacer(A_BOX_W, 29), header(A_BOX_W, 12, 5.5), *a_rows)

rpl = hcat(*[a_gene(g, 50) for g in A_RPL_GENES], spacing=4.15)
rps = hcat(*[a_gene(g, 51.5) for g in A_RPS_GENES], spacing=4)
row_a = hcat(letter("A", 28, 38, 30), spacer(16, 20), box_a, spacer(5.5, 20),
             rpl, spacer(16.5, 20), rps)


# ---------------- Panel B ----------------
def b_box(w, spacer_h, head_h, fetal_h, adult_h, fetal_dys, adult_dys, axis_x):
    fetal = label_row(B_ROW_LABELS[0], [15, 15, 15], fetal_dys, "normal", -11.5, w,
                      fetal_h, [0, 40], B_FETAL_TICKS, [fetal_h - 5, 5], axis_x, 10, 5)
    adult = label_row(B_ROW_LABELS[1], [15, 15, 15], adult_dys, "normal", -11.5, w,
                      adult_h, [0, 100], B_ADULT_TICKS, [adult_h - 4, 4.5], axis_x, 10, 5)
    return vcat(spacer(w, spacer_h), header(w, head_h, 8), fetal, adult)


box_b1 = b_box(150, 19, 13, 72, 72, [-15.5, 2.5, 19.5], [-17.5, 0.5, 17.5], 141)
genes_b1 = hcat(*[b_gene(g, 62, 176, [31, 19], [101, 37], [172, 106], 19.5)
                  for g in B1_GENES], spacing=28)
row_b1 = hcat(letter("B", 29, 28, 28), spacer(15, 20), box_b1, spacer(21, 20), genes_b1)

box_b2 = b_box(148, 20, 14, 71, 71, [-18.5, 1.5, 18.5], [-15.5, 2.5, 17.5], 140)
genes_b2 = hcat(*[b_gene(g, 60, 176, [31, 20], [102, 36], [174, 108], 20.5)
                  for g in B2_GENES], spacing=26)
row_b2 = hcat(spacer(169, 20), box_b2, spacer(18, 20), genes_b2)

chart = vcat(row_a, spacer(20, 125), row_b1, spacer(20, 46), row_b2)
chart = chart.properties(
    padding={"top": -14, "left": 0, "right": 0, "bottom": 0}, background="white"
).configure_view(stroke="transparent")

chart.save("out.html", embed_options={"renderer": "svg", "actions": False})
